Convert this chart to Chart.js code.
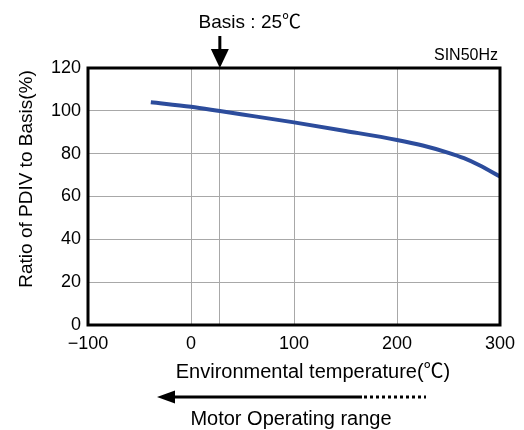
<!DOCTYPE html>
<html>
<head>
<meta charset="utf-8">
<script src="https://cdn.jsdelivr.net/npm/chart.js@4"></script>
<style>
  html, body { margin: 0; padding: 0; background: #fff; }
  #wrap { width: 524px; height: 430px; }
</style>
</head>
<body>
<div id="wrap"><canvas id="c" width="524" height="430"></canvas></div>
<script>
// 温度 (℃) と PDIV 比 (%)
var temps  = [-39, 0, 28, 50, 100, 150, 200, 225, 250, 265, 280, 300];
var ratios = [104, 101.9, 99.9, 98.3, 94.6, 90.6, 86.4, 83.8, 80.4, 77.9, 74.6, 69.3];
var xTicks = [-100, 0, 100, 200, 300];
var yTicks = [0, 20, 40, 60, 80, 100, 120];
var basisLine = 28; // 図中の基準線の位置 (ラベルは 25℃)

var FONT = "'Liberation Sans', 'Noto Sans CJK JP', sans-serif";

var points = temps.map(function (t, i) { return { x: t, y: ratios[i] }; });

function arrowHead(ctx, x, y, dir, w, h) {
  ctx.beginPath();
  if (dir === "down") {
    ctx.moveTo(x, y);
    ctx.lineTo(x - w / 2, y - h);
    ctx.lineTo(x + w / 2, y - h);
  } else {
    ctx.moveTo(x, y);
    ctx.lineTo(x + h, y - w / 2);
    ctx.lineTo(x + h, y + w / 2);
  }
  ctx.closePath();
  ctx.fill();
}

var notes = {
  id: "notes",
  afterDraw: function (chart) {
    var ctx = chart.ctx;
    var a = chart.chartArea;
    var xs = chart.scales.x;
    ctx.save();

    // 枠
    ctx.strokeStyle = "#000";
    ctx.lineWidth = 3;
    ctx.strokeRect(a.left, a.top, a.right - a.left, a.bottom - a.top);

    ctx.fillStyle = "#000";
    ctx.textBaseline = "middle";

    // 基準矢印
    var bx = xs.getPixelForValue(basisLine);
    ctx.font = "19px " + FONT;
    ctx.textAlign = "center";
    ctx.fillText("Basis : 25℃", bx + 30, 23);
    ctx.lineWidth = 3;
    ctx.beginPath();
    ctx.moveTo(bx, 36);
    ctx.lineTo(bx, 52);
    ctx.stroke();
    arrowHead(ctx, bx, a.top, "down", 18, 19);

    ctx.font = "16px " + FONT;
    ctx.textAlign = "right";
    ctx.fillText("SIN50Hz", a.right - 2, 56);

    // y 軸タイトル
    ctx.save();
    ctx.translate(27, 179);
    ctx.rotate(-Math.PI / 2);
    ctx.textAlign = "center";
    ctx.font = "19px " + FONT;
    ctx.fillText("Ratio of PDIV to Basis(%)", 0, 0);
    ctx.restore();

    // x 軸タイトル
    ctx.font = "20px " + FONT;
    ctx.textAlign = "center";
    ctx.fillText("Environmental temperature(℃)", 313, 372);

    // 動作範囲矢印
    ctx.lineWidth = 3;
    ctx.beginPath();
    ctx.moveTo(170, 397);
    ctx.lineTo(362, 397);
    ctx.stroke();
    arrowHead(ctx, 157, 397, "left", 13, 18);
    ctx.setLineDash([3, 3]);
    ctx.beginPath();
    ctx.moveTo(364, 397);
    ctx.lineTo(426, 397);
    ctx.stroke();
    ctx.setLineDash([]);

    ctx.font = "20px " + FONT;
    ctx.fillText("Motor Operating range", 291, 419);
    ctx.restore();
  }
};

new Chart(document.getElementById("c"), {
  type: "line",
  data: {
    datasets: [{
      data: points,
      borderColor: "#2c4c9c",
      borderWidth: 4,
      pointRadius: 0,
      cubicInterpolationMode: "monotone",
      fill: false
    }]
  },
  options: {
    responsive: false,
    animation: false,
    layout: { padding: { top: 68, right: 24, left: 0, bottom: 0 } },
    plugins: { legend: { display: false }, tooltip: { enabled: false } },
    scales: {
      x: {
        type: "linear",
        min: -100,
        max: 300,
        afterBuildTicks: function (s) {
          var t = xTicks.slice();
          t.splice(2, 0, basisLine);
          s.ticks = t.map(function (v) { return { value: v }; });
        },
        afterFit: function (s) { s.height = 105; },
        grid: { color: "#a8a8a8", lineWidth: 1, drawTicks: false },
        border: { display: false },
        ticks: {
          padding: 8,
          color: "#000",
          font: { family: FONT, size: 18 },
          maxRotation: 0,
          autoSkip: false,
          callback: function (v) {
            if (xTicks.indexOf(v) < 0) return "";
            return v < 0 ? "\u2212" + Math.abs(v) : String(v);
          }
        }
      },
      y: {
        min: 0,
        max: 120,
        afterBuildTicks: function (s) {
          s.ticks = yTicks.map(function (v) { return { value: v }; });
        },
        afterFit: function (s) { s.width = 88; },
        grid: { color: "#a8a8a8", lineWidth: 1, drawTicks: false },
        border: { display: false },
        ticks: {
          padding: 7,
          color: "#000",
          font: { family: FONT, size: 18 }
        }
      }
    }
  },
  plugins: [notes]
});
</script>
</body>
</html>
